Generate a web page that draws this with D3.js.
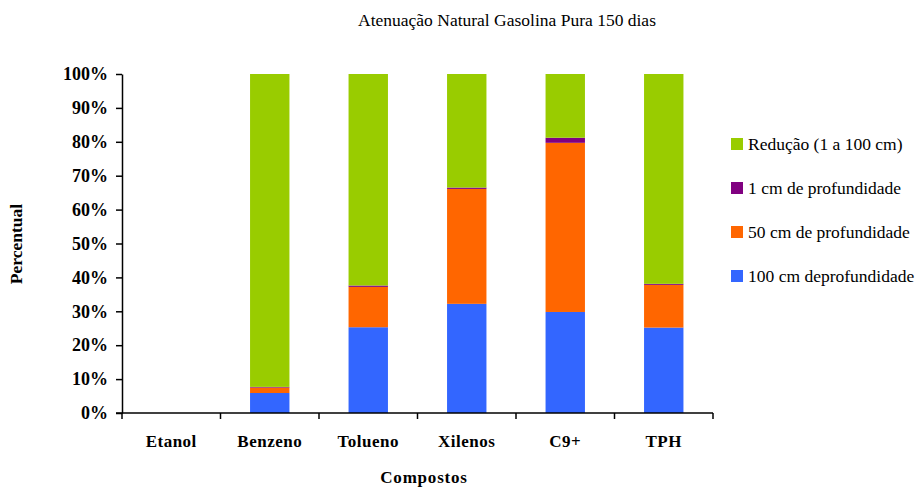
<!DOCTYPE html>
<html>
<head>
<meta charset="utf-8">
<script src="https://cdn.jsdelivr.net/npm/d3@7"></script>
<style>
  body { margin: 0; background: #fff; }
</style>
</head>
<body>
<div id="chart"></div>
<script>
// data
var categories = ["Etanol", "Benzeno", "Tolueno", "Xilenos", "C9+", "TPH"];
var seriesNames = ["100 cm deprofundidade", "50 cm de profundidade", "1 cm de profundidade", "Redução (1 a 100 cm)"];
var seriesColors = ["#3366ff", "#ff6600", "#800080", "#99cc00"];
var prof100 = [0, 5.9, 25.3, 32.2, 29.8, 25.2];
var prof50  = [0, 1.6, 11.9, 33.9, 49.9, 12.6];
var prof1   = [0, 0.2, 0.4, 0.4, 1.5, 0.3];
var reducao = [0, 92.3, 62.4, 33.5, 18.8, 61.9];
var yTicks = [0, 10, 20, 30, 40, 50, 60, 70, 80, 90, 100];

var FONT = "'Liberation Serif', 'Times New Roman', serif";

var margin = {top: 74, right: 203, bottom: 74, left: 122},
    W = 916, H = 487,
    width = W - margin.left - margin.right,
    height = H - margin.top - margin.bottom;

var svg = d3.select("#chart").append("svg")
  .attr("width", W).attr("height", H)
  .attr("font-family", FONT);

var g = svg.append("g")
  .attr("transform", "translate(" + margin.left + "," + margin.top + ")");

var rows = categories.map(function(c, i) {
  return {cat: c, s0: prof100[i], s1: prof50[i], s2: prof1[i], s3: reducao[i]};
});
var stack = d3.stack().keys(["s0", "s1", "s2", "s3"]);
var layers = stack(rows);

var x = d3.scaleBand().domain(categories).range([0, width]).paddingInner(0.6).paddingOuter(0.3);
var xb = d3.scaleBand().domain(categories).range([0, width]);
var y = d3.scaleLinear().domain([0, 100]).range([height, 0]);

// bars
g.selectAll("g.layer").data(layers).enter().append("g")
  .attr("class", "layer")
  .attr("fill", function(d, i) { return seriesColors[i]; })
  .selectAll("rect").data(function(d) { return d; }).enter().append("rect")
  .attr("x", function(d) { return x(d.data.cat); })
  .attr("y", function(d) { return y(d[1]); })
  .attr("width", x.bandwidth())
  .attr("height", function(d) { return Math.max(0, y(d[0]) - y(d[1])); });

// y axis
var yAxis = g.append("g")
  .call(d3.axisLeft(y).tickValues(yTicks).tickFormat(function(d) { return d + "%"; }).tickSize(6).tickSizeOuter(0));
yAxis.attr("font-family", FONT);
yAxis.select(".domain").attr("stroke", "#000").attr("stroke-width", 1.5);
yAxis.selectAll(".tick line").attr("stroke", "#000").attr("stroke-width", 1.5);
yAxis.selectAll("text")
  .attr("x", -14)
  .style("font-family", FONT)
  .style("font-size", "18px").style("font-weight", "bold").attr("fill", "#000");

// x axis with ticks between categories
var xAxisG = g.append("g").attr("transform", "translate(0," + height + ")");
xAxisG.append("line").attr("x1", -6).attr("x2", width).attr("stroke", "#000").attr("stroke-width", 1.5);
var bounds = categories.map(function(c) { return xb(c); }).concat([width]);
xAxisG.selectAll("line.tk").data(bounds).enter().append("line")
  .attr("class", "tk")
  .attr("x1", function(d) { return d; }).attr("x2", function(d) { return d; })
  .attr("y1", 0).attr("y2", 6)
  .attr("stroke", "#000").attr("stroke-width", 1.5);
xAxisG.selectAll("text.cat").data(categories).enter().append("text")
  .attr("class", "cat")
  .attr("x", function(d) { return xb(d) + xb.bandwidth() / 2; })
  .attr("y", 34)
  .attr("text-anchor", "middle")
  .style("font-family", FONT)
  .style("font-size", "17px").style("font-weight", "bold")
  .style("letter-spacing", "0.5px")
  .text(function(d) { return d; });

// titles
svg.append("text")
  .attr("x", 507).attr("y", 26)
  .attr("text-anchor", "middle")
  .style("font-family", FONT)
  .style("font-size", "17.5px")
  .text("Atenuação Natural Gasolina Pura 150 dias");

svg.append("text")
  .attr("x", 424).attr("y", 483)
  .attr("text-anchor", "middle")
  .style("font-family", FONT)
  .style("font-size", "17px").style("font-weight", "bold")
  .style("letter-spacing", "0.8px")
  .text("Compostos");

svg.append("text")
  .attr("transform", "translate(22,244) rotate(-90)")
  .attr("text-anchor", "middle")
  .style("font-family", FONT)
  .style("font-size", "17.5px").style("font-weight", "bold")
  .text("Percentual");

// legend (top entry is the last series)
var legendOrder = [3, 2, 1, 0];
var legend = svg.append("g").attr("transform", "translate(731,138)");
var li = legend.selectAll("g").data(legendOrder).enter().append("g")
  .attr("transform", function(d, i) { return "translate(0," + (i * 44) + ")"; });
li.append("rect").attr("width", 12).attr("height", 12)
  .attr("fill", function(d) { return seriesColors[d]; });
li.append("text").attr("x", 17).attr("y", 12)
  .style("font-family", FONT)
  .style("font-size", "17.5px")
  .text(function(d) { return seriesNames[d]; });
</script>
</body>
</html>
